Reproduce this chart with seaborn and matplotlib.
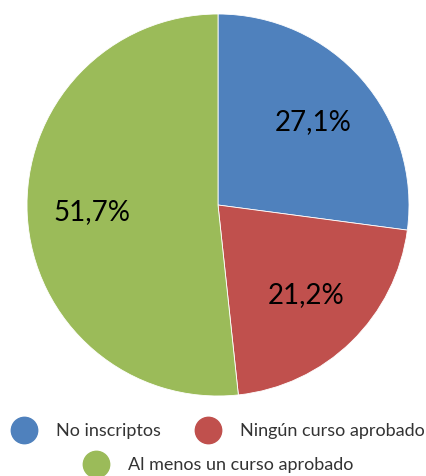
import matplotlib
matplotlib.use("Agg")
import matplotlib.pyplot as plt
from matplotlib.lines import Line2D
import seaborn as sns

categories = ["No inscriptos", "Ningún curso aprobado", "Al menos un curso aprobado"]
values = [27.1, 21.2, 51.7]
colors = ["#4F81BD", "#C0504D", "#9BBB59"]

sns.set_theme(style="white")
plt.rcParams['font.family'] = ['Lato', 'DejaVu Sans']

W, H = 426, 476
fig = plt.figure(figsize=(W / 100, H / 100), dpi=100)
fig.patch.set_facecolor("white")

cx, cy, r = 218, 205, 191
ax = fig.add_axes([(cx - r) / W, (H - cy - r) / H, 2 * r / W, 2 * r / H])
wedges, texts, autotexts = ax.pie(
    values, colors=colors, startangle=90, counterclock=False, radius=1,
    autopct=lambda p: f"{p:.1f}%".replace(".", ","), pctdistance=0.66,
    wedgeprops=dict(edgecolor="white", linewidth=0.6),
    textprops=dict(fontsize=20, color="black"))
ax.set_xlim(-1, 1)
ax.set_ylim(-1, 1)
ax.set_aspect("equal")
ax.axis("off")

positions = [(10, 431), (194, 431), (82, 465)]
for name, col, (px, py) in zip(categories, colors, positions):
    h = Line2D([], [], marker="o", linestyle="", markersize=19,
               markerfacecolor=col, markeredgecolor=col)
    fig.legend(handles=[h], labels=[name], loc="center left",
               bbox_to_anchor=(px / W, 1 - py / H), frameon=False,
               borderaxespad=0, borderpad=0, handlelength=1.6,
               handletextpad=0.95, fontsize=13, labelcolor="#333333")

fig.savefig("out.png", dpi=100, facecolor="white")
